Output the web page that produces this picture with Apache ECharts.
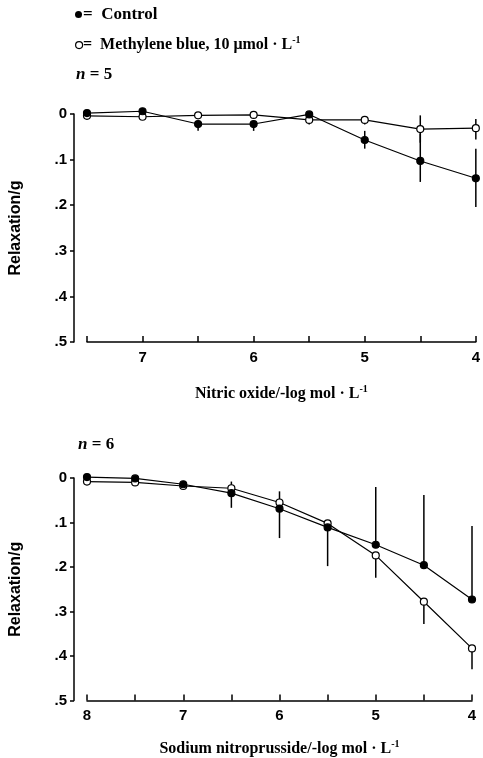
<!DOCTYPE html>
<html>
<head>
<meta charset="utf-8">
<script src="https://cdn.jsdelivr.net/npm/echarts@6/dist/echarts.min.js"></script>
<style>
  html, body { margin: 0; padding: 0; background: #fff; }
  #chart { width: 483px; height: 758px; }
</style>
</head>
<body>
<div id="chart"></div>
<script>
// top panel: nitric oxide, -log mol/L
const noDose = [7.5, 7, 6.5, 6, 5.5, 5, 4.5, 4]
const noControl = [-0.002, -0.006, 0.022, 0.022, 0.001, 0.057, 0.103, 0.141]
const noControlErrUp = [0, 0, 0, 0, 0, 0.02, 0.06, 0.065]
const noControlErrDown = [0, 0, 0.015, 0.015, 0, 0.019, 0.046, 0.063]
const noMB = [0.004, 0.006, 0.003, 0.002, 0.013, 0.013, 0.033, 0.031]
const noMBErrUp = [0, 0, 0, 0, 0, 0, 0.03, 0.02]
const noMBErrDown = [0, 0, 0, 0, 0.01, 0.01, 0.03, 0.025]

// bottom panel: sodium nitroprusside, -log mol/L
const snpDose = [8, 7.5, 7, 6.5, 6, 5.5, 5, 4.5, 4]
const snpControl = [-0.002, 0.001, 0.014, 0.034, 0.069, 0.111, 0.150, 0.196, 0.273]
const snpControlErrUp = [0, 0, 0, 0, 0, 0, 0.13, 0.158, 0.165]
const snpControlErrDown = [0, 0, 0.01, 0.033, 0.066, 0.087, 0, 0, 0]
const snpMB = [0.008, 0.010, 0.018, 0.023, 0.055, 0.102, 0.174, 0.278, 0.383]
const snpMBErrUp = [0, 0, 0, 0.015, 0.025, 0, 0, 0, 0]
const snpMBErrDown = [0, 0, 0, 0, 0, 0, 0.05, 0.05, 0.047]

const yTicks = ['0', '.1', '.2', '.3', '.4', '.5']

const sansBold = { fontFamily: 'Liberation Sans', fontWeight: 'bold', color: '#000' }
const serifBold = { fontFamily: 'Liberation Serif', fontWeight: 'bold', color: '#000' }

const pairs = (xs, ys) => xs.map((x, i) => [x, ys[i]])
const errRows = (xs, ys, up, down) => xs.map((x, i) => [x, ys[i], up[i], down[i]])

const renderErr = (params, api) => {
  const x = api.value(0), y = api.value(1)
  const up = api.value(2), down = api.value(3)
  if (!up && !down) return
  const a = api.coord([x, y - up])
  const b = api.coord([x, y + down])
  return {
    type: 'line',
    shape: { x1: a[0], y1: a[1], x2: b[0], y2: b[1] },
    style: { stroke: '#000', lineWidth: 1.5 }
  }
}

const supRich = {
  a: Object.assign({ fontSize: 16, lineHeight: 19 }, serifBold),
  s: Object.assign({ fontSize: 10, lineHeight: 10, verticalAlign: 'top' }, serifBold)
}

const xAxisFor = (idx, max, name, gap) => ({
  type: 'value', gridIndex: idx, min: 4, max: max, interval: 0.5, inverse: true,
  axisLine: { onZero: false, lineStyle: { color: '#000', width: 1.5 } },
  axisTick: { inside: true, length: 6, lineStyle: { color: '#000', width: 1.5 } },
  splitLine: { show: false },
  axisLabel: Object.assign({ fontSize: 15, margin: 8,
    formatter: v => Number.isInteger(v) ? String(v) : '' }, sansBold),
  name: name, nameLocation: 'middle', nameGap: gap,
  nameTextStyle: { rich: supRich }
})

const yAxisFor = idx => ({
  type: 'value', gridIndex: idx, min: 0, max: 0.5, interval: 0.1, inverse: true,
  offset: 13,
  axisLine: { show: true, onZero: false, lineStyle: { color: '#000', width: 1.5 } },
  axisTick: { show: true, length: 4, lineStyle: { color: '#000', width: 1.5 } },
  splitLine: { show: false },
  axisLabel: Object.assign({ fontSize: 15, margin: 7,
    formatter: v => yTicks[Math.round(v * 10)] }, sansBold),
  name: 'Relaxation/g', nameLocation: 'middle', nameGap: 50,
  nameTextStyle: Object.assign({ fontSize: 16 }, sansBold)
})

const lineSeries = (idx, data, filled) => ({
  type: 'line', xAxisIndex: idx, yAxisIndex: idx, data: data, clip: false,
  symbol: 'circle', symbolSize: 7, z: filled ? 4 : 3,
  lineStyle: { color: '#000', width: 1.2 },
  itemStyle: { color: filled ? '#000' : '#fff', borderColor: '#000', borderWidth: 1.2 },
  animation: false
})

const errSeries = (idx, rows) => ({
  type: 'custom', xAxisIndex: idx, yAxisIndex: idx, data: rows, clip: false,
  renderItem: renderErr, z: 2, animation: false
})

const nLabel = (x, y, n) => ({
  type: 'text', left: x, top: y, style: {
    text: '{i|n}{a| = ' + n + '}',
    rich: {
      i: Object.assign({ fontSize: 17, fontStyle: 'italic' }, serifBold),
      a: Object.assign({ fontSize: 17 }, serifBold)
    }
  }
})

const chart = echarts.init(document.getElementById('chart'))
chart.setOption({
  backgroundColor: '#fff',
  animation: false,
  grid: [
    { left: 83, right: 6, top: 114, height: 228 },
    { left: 83, right: 11, top: 478, height: 226 }
  ],
  xAxis: [
    xAxisFor(0, 7.5, '{a|Nitric oxide/-log mol · L}{s|-1}', 42),
    xAxisFor(1, 8, '{a|Sodium nitroprusside/-log mol · L}{s|-1}', 39)
  ],
  yAxis: [yAxisFor(0), yAxisFor(1)],
  series: [
    errSeries(0, errRows(noDose, noControl, noControlErrUp, noControlErrDown)),
    errSeries(0, errRows(noDose, noMB, noMBErrUp, noMBErrDown)),
    lineSeries(0, pairs(noDose, noMB), false),
    lineSeries(0, pairs(noDose, noControl), true),
    errSeries(1, errRows(snpDose, snpControl, snpControlErrUp, snpControlErrDown)),
    errSeries(1, errRows(snpDose, snpMB, snpMBErrUp, snpMBErrDown)),
    lineSeries(1, pairs(snpDose, snpMB), false),
    lineSeries(1, pairs(snpDose, snpControl), true)
  ],
  graphic: [
    { type: 'circle', left: 75, top: 11, shape: { r: 3.5 }, style: { fill: '#000' } },
    { type: 'text', left: 83, top: 6, style: Object.assign({ text: '=  Control', fontSize: 17 }, serifBold, { fill: '#000' }) },
    { type: 'circle', left: 75, top: 41, shape: { r: 3.5 }, style: { fill: '#fff', stroke: '#000', lineWidth: 1.2 } },
    { type: 'text', left: 83, top: 35, style: {
      text: '{a|=  Methylene blue, 10 μmol · L}{s|-1}',
      rich: {
        a: Object.assign({ fontSize: 16, lineHeight: 19 }, serifBold),
        s: Object.assign({ fontSize: 10, lineHeight: 10, verticalAlign: 'top' }, serifBold)
      }
    } },
    nLabel(76, 66, 5),
    nLabel(78, 436, 6)
  ]
})
</script>
</body>
</html>
